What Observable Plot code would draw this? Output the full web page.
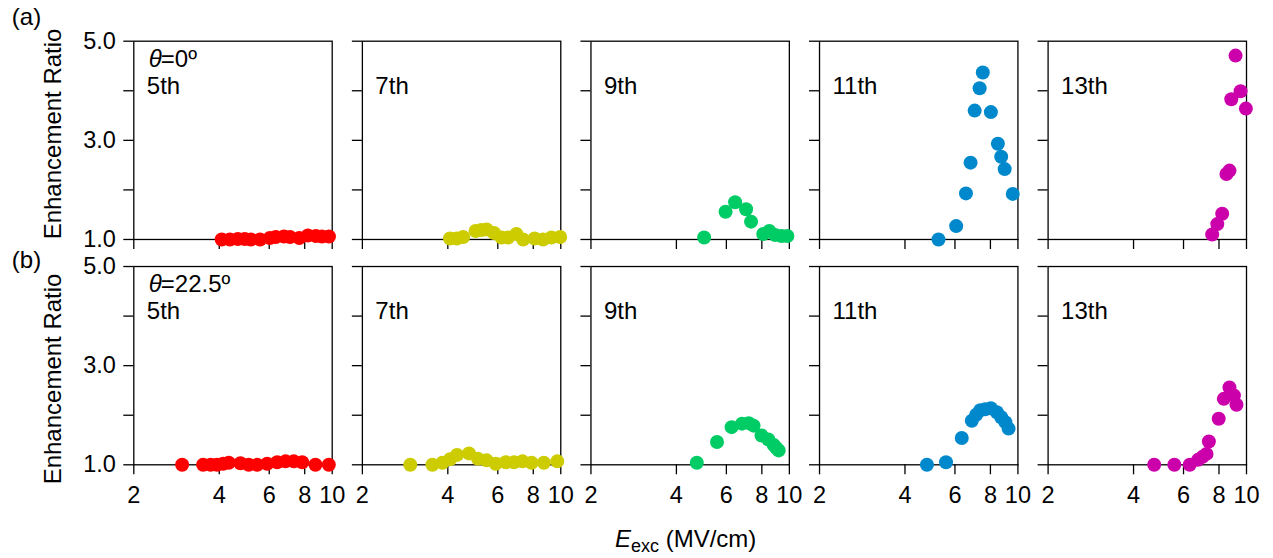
<!DOCTYPE html>
<html><head><meta charset="utf-8">
<script src="https://cdn.jsdelivr.net/npm/d3@7"></script>
<script src="https://cdn.jsdelivr.net/npm/@observablehq/plot@0.6"></script>
<style>
body{margin:0;background:#fff;}
#wrap{position:relative;width:1273px;height:558px;font-family:"Liberation Sans",Arial,sans-serif;color:#000;}
#xlabel{position:absolute;left:615px;top:526px;font-size:24px;line-height:26px;white-space:nowrap;}
#xlabel sub{font-size:18px;line-height:0;vertical-align:-5px;}
</style></head><body>
<div id="wrap"><div id="chart"></div><div id="xlabel"><i>E</i><sub>exc</sub> (MV/cm)</div></div>
<script>
const orders = ["5th","7th","9th","11th","13th"];
const rows = ["a","b"];
const rowTags = ["(a)","(b)"];
const angles = ["=0º","=22.5º"];
const colors = ["#ff0000","#cccc00","#00cc66","#0088cc","#cc00aa"];
const xTicks = [2,4,6,8,10];
const yTicks = [1,2,3,4,5];
const yLabelTicks = [1,3,5];

// row (a), θ = 0º : [E_exc (MV/cm), enhancement ratio]
const a5th = [[4.08,1.00],[4.36,1.00],[4.65,1.01],[4.92,1.01],[5.17,1.00],[5.57,1.00],[6.03,1.03],[6.33,1.05],[6.76,1.06],[7.10,1.05],[7.66,1.03],[8.21,1.08],[8.76,1.07],[9.20,1.06],[9.74,1.06]];
const a7th = [[4.07,1.02],[4.30,1.02],[4.53,1.05],[5.01,1.17],[5.25,1.19],[5.48,1.20],[5.82,1.13],[6.18,1.04],[6.52,1.04],[6.98,1.11],[7.37,1.00],[8.09,1.02],[8.66,1.00],[9.27,1.04],[9.95,1.05]];
const a9th = [[5.01,1.04],[5.96,1.56],[6.44,1.75],[7.04,1.61],[7.33,1.36],[8.09,1.11],[8.50,1.17],[8.91,1.09],[9.39,1.07],[9.84,1.07]];
const a11th = [[5.25,1.00],[6.06,1.27],[6.56,1.93],[6.81,2.55],[7.04,3.60],[7.33,4.05],[7.52,4.37],[8.03,3.57],[8.50,2.93],[8.73,2.67],[8.98,2.42],[9.59,1.92]];
const a13th = [[7.57,1.10],[7.89,1.31],[8.21,1.52],[8.50,2.32],[8.71,2.39],[8.84,3.83],[9.15,4.71],[9.53,3.99],[9.95,3.64]];

// row (b), θ = 22.5º
const b5th = [[2.96,1.00],[3.51,1.00],[3.73,1.00],[3.93,1.00],[4.13,1.02],[4.32,1.04],[4.75,1.03],[5.08,1.00],[5.44,1.00],[5.90,1.02],[6.40,1.05],[6.85,1.07],[7.32,1.07],[7.84,1.05],[8.73,1.00],[9.73,1.00]];
const b7th = [[2.95,1.00],[3.53,1.00],[3.83,1.04],[4.07,1.11],[4.31,1.20],[4.75,1.23],[5.11,1.12],[5.48,1.09],[5.90,1.02],[6.40,1.05],[6.84,1.05],[7.33,1.07],[7.89,1.04],[8.72,1.04],[9.72,1.07]];
const b9th = [[4.72,1.04],[5.56,1.46],[6.26,1.76],[6.81,1.83],[7.19,1.84],[7.48,1.79],[7.98,1.59],[8.43,1.51],[8.81,1.40],[9.00,1.34],[9.17,1.29]];
const b11th = [[4.78,1.00],[5.58,1.05],[6.34,1.54],[6.88,1.89],[7.13,2.01],[7.37,2.10],[7.67,2.12],[8.03,2.14],[8.43,2.06],[8.73,1.96],[9.03,1.86],[9.27,1.73]];
const b13th = [[4.73,1.00],[5.57,1.00],[6.31,1.00],[6.75,1.10],[7.00,1.16],[7.23,1.22],[7.37,1.47],[7.98,1.93],[8.32,2.33],[8.71,2.56],[9.03,2.40],[9.22,2.21]];

const panelSeries = {
  a: [a5th, a7th, a9th, a11th, a13th],
  b: [b5th, b7th, b9th, b11th, b13th]
};
const data = [];
for (const r of rows) panelSeries[r].forEach((series, i) => {
  for (const [E, R] of series) data.push({row: r, order: orders[i], E, R});
});
const panelLabels = [];
for (const r of rows) for (const o of orders) panelLabels.push({row: r, order: o});
const rowInfo = rows.map((r, i) => ({row: r, order: orders[0], tag: rowTags[i], angle: angles[i]}));
const rowA = rowInfo.filter(d => d.row === "a");
const rowB = rowInfo.filter(d => d.row === "b");

const H = 515;
const font = '"Liberation Sans", Arial, sans-serif';
const txt = {fx: "order", fy: "row", frameAnchor: "top-left", textAnchor: "start", lineAnchor: "middle", fontSize: 24, fill: "#000"};
const chart = Plot.plot({
  width: 1273, height: H,
  marginLeft: 133.3, marginRight: 27, marginTop: 40.7, marginBottom: H - 464.3,
  style: {fontFamily: font, fontSize: "23.5px", color: "#000", background: "#fff", overflow: "visible"},
  fx: {domain: orders, paddingInner: 0.132, paddingOuter: 0, round: false, axis: null, label: null},
  fy: {domain: rows, paddingInner: 0.12, paddingOuter: 0, round: false, axis: null, label: null},
  x: {type: "log", domain: [2, 10]},
  y: {domain: [1, 5]},
  color: {domain: orders, range: colors},
  marks: [
    Plot.frame({stroke: "#000", strokeWidth: 1.3}),
    Plot.axisY({ticks: yTicks, tickSize: 10, fill: "none", stroke: "#000", strokeWidth: 1.3, facetAnchor: null, label: null}),
    Plot.axisY({ticks: yLabelTicks, tickSize: 10, tickPadding: 8, stroke: "none", fill: "#000", tickFormat: d => d.toFixed(1), label: null}),
    Plot.axisX({ticks: xTicks, tickSize: 10, fill: "none", stroke: "#000", strokeWidth: 1.3, facetAnchor: null, label: null}),
    Plot.axisX({ticks: xTicks, tickSize: 10, tickPadding: 12, stroke: "none", fill: "#000", tickFormat: d => String(d), label: null}),
    Plot.dot(data, {x: "E", y: "R", fx: "order", fy: "row", r: 7, fill: "order", stroke: null}),
    Plot.text(panelLabels, {...txt, text: "order", dx: 13, dy: 45}),
    Plot.text(rowInfo, {...txt, text: () => "θ", fontStyle: "italic", dx: 15, dy: 18}),
    Plot.text(rowInfo, {...txt, text: "angle", dx: 27, dy: 18}),
    Plot.text(rowA, {...txt, text: "tag", dx: -122, dy: -23.5}),
    Plot.text(rowB, {...txt, text: "tag", dx: -122, dy: -6.5}),
    Plot.text(rowA, {fx: "order", fy: "row", text: () => "Enhancement Ratio", frameAnchor: "left", textAnchor: "middle", lineAnchor: "middle", rotate: -90, dx: -80, dy: -6.4, fontSize: 24, fill: "#000"}),
    Plot.text(rowB, {fx: "order", fy: "row", text: () => "Enhancement Ratio", frameAnchor: "left", textAnchor: "middle", lineAnchor: "middle", rotate: -90, dx: -80, dy: 13.3, fontSize: 24, fill: "#000"})
  ]
});
document.getElementById("chart").appendChild(chart);
</script>
</body></html>
